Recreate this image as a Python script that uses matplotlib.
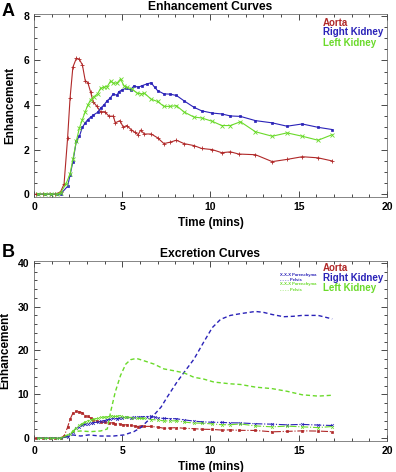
import matplotlib.pyplot as plt
from matplotlib.ticker import MultipleLocator

plt.rcParams['font.family'] = ['Liberation Sans', 'DejaVu Sans']
plt.rcParams['font.weight'] = 'bold'

RED = "#b02828"
BLUE = "#2a22b8"
GREEN = "#6ada2a"

# sample times (mins) and curves
aorta_t = [0.1, 0.5, 0.9, 1.2, 1.5, 1.7, 1.9, 2.04, 2.2, 2.4, 2.57, 2.74, 2.9, 3.05, 3.2,
           3.35, 3.55, 3.77, 4.0, 4.25, 4.5, 4.6, 4.87, 5.06, 5.25, 5.5, 5.7, 5.9, 6.04,
           6.26, 6.64, 7.0, 7.36, 7.7, 8.07, 8.5, 9.06, 9.5, 10.1, 10.64, 11.13, 11.6,
           12.55, 13.5, 14.34, 15.2, 16.1, 16.9]
aorta = [0.0, 0.0, 0.0, 0.0, 0.1, 0.45, 2.5, 4.3, 5.7, 6.1, 6.05, 5.8, 5.1, 5.0, 4.6,
         4.15, 3.95, 3.7, 3.7, 3.5, 3.5, 3.2, 3.3, 3.0, 3.08, 2.9, 2.78, 2.67, 2.87,
         2.7, 2.7, 2.53, 2.27, 2.33, 2.42, 2.27, 2.18, 2.05, 2.0, 1.86, 1.9, 1.8,
         1.77, 1.46, 1.56, 1.68, 1.63, 1.49]

right_t = [0.2, 0.6, 0.95, 1.3, 1.5, 1.9, 2.04, 2.2, 2.4, 2.57, 2.74, 2.9, 3.05, 3.2, 3.36,
           3.6, 3.77, 3.96, 4.15, 4.3, 4.5, 4.7, 4.8, 5.0, 5.2, 5.47, 5.66, 5.9, 6.13,
           6.4, 6.64, 6.83, 7.0, 7.36, 7.7, 8.07, 8.5, 9.06, 9.5, 10.1, 10.64, 11.13,
           11.7, 12.55, 13.5, 14.34, 15.2, 16.1, 16.9]
right_par = [0.0, 0.0, 0.0, 0.0, 0.0, 0.35, 0.85, 1.45, 2.4, 2.6, 3.0, 3.2, 3.35, 3.45, 3.55,
             3.67, 3.86, 4.0, 4.2, 4.3, 4.5, 4.43, 4.6, 4.68, 4.75, 4.68, 4.86, 4.8, 4.87,
             4.95, 5.0, 4.8, 4.65, 4.5, 4.49, 4.43, 4.19, 3.9, 3.74, 3.64, 3.6, 3.51,
             3.49, 3.3, 3.2, 3.05, 3.15, 3.0, 2.9]

left_t = [0.2, 0.6, 0.95, 1.3, 1.5, 1.8, 2.04, 2.2, 2.4, 2.57, 2.74, 2.9, 3.05, 3.2, 3.4,
          3.6, 3.77, 3.96, 4.15, 4.34, 4.5, 4.7, 4.9, 5.1, 5.28, 5.57, 5.85, 6.08, 6.26,
          6.64, 7.0, 7.36, 7.7, 8.07, 8.5, 9.06, 9.5, 10.1, 10.64, 11.13, 11.7, 12.55,
          13.5, 14.34, 15.2, 16.1, 16.9]
left_par = [0.0, 0.0, 0.0, 0.0, 0.05, 0.45, 0.9, 1.56, 2.4, 2.97, 3.35, 3.7, 4.0, 4.23, 4.38,
            4.5, 4.75, 4.8, 4.83, 5.08, 4.98, 4.98, 5.17, 4.86, 4.8, 4.71, 4.53, 4.5, 4.53,
            4.26, 4.16, 3.94, 3.94, 3.97, 3.69, 3.46, 3.42, 3.27, 3.08, 3.08, 3.25, 2.8,
            2.6, 2.75, 2.6, 2.42, 2.67]

right_pel_t = [0.2, 0.9, 1.5, 1.9, 2.2, 2.64, 3.1, 3.77, 4.5, 5.1, 5.66, 6.04, 6.4, 6.8, 7.2,
               7.55, 8.1, 8.5, 9.06, 9.6, 10.1, 10.57, 11.13, 11.7, 12.55, 13.0, 13.5,
               14.15, 14.7, 15.2, 16.1, 16.9]
right_pel = [0.0, 0.0, 0.0, 0.4, 0.75, 0.5, 0.75, 0.5, 0.5, 0.75, 1.5, 2.4, 3.8, 5.3, 7.1,
             9.4, 12.8, 15.0, 18.0, 21.8, 25.2, 27.1, 28.0, 28.4, 28.9, 28.7, 28.2,
             27.7, 27.8, 28.0, 28.0, 27.2]

left_pel_t = [0.2, 0.9, 1.5, 1.9, 2.2, 2.64, 3.2, 3.77, 4.15, 4.34, 4.6, 4.9, 5.2, 5.47, 5.8,
              6.2, 6.8, 7.36, 7.9, 8.5, 9.06, 9.6, 10.2, 11.13, 11.7, 12.55, 13.5, 14.34,
              15.2, 16.1, 16.9]
left_pel = [0.0, 0.0, 0.0, 0.75, 1.5, 1.65, 1.5, 1.65, 2.1, 6.0, 10.5, 14.3, 16.9, 17.9, 18.2,
            17.7, 16.9, 15.8, 15.4, 14.9, 13.9, 13.5, 12.8, 12.4, 12.25, 11.65, 11.3, 10.7,
            9.9, 9.6, 9.8]


def style_axes(ax, ymaj, ymin):
    ax.set_xlim(0, 20)
    ax.xaxis.set_major_locator(MultipleLocator(5))
    ax.xaxis.set_minor_locator(MultipleLocator(1))
    ax.yaxis.set_major_locator(MultipleLocator(ymaj))
    ax.yaxis.set_minor_locator(MultipleLocator(ymin))
    ax.tick_params(which="both", direction="in", top=True, right=True, labelsize=7.5, width=0.5)
    ax.tick_params(which="major", length=4)
    ax.tick_params(which="minor", length=2)
    for s in ax.spines.values():
        s.set_linewidth(0.5)
        s.set_color("#555555")
    ax.set_xlabel("Time (mins)", fontsize=8.5, fontweight="bold", labelpad=4)
    ax.set_ylabel("Enhancement", fontsize=8.5, fontweight="bold", labelpad=5)


def color_legend(ax, ys):
    for (label, col), y in zip([("Aorta", RED), ("Right Kidney", BLUE), ("Left Kidney", GREEN)], ys):
        ax.text(0.818, y, label, color=col, transform=ax.transAxes,
                fontsize=7, fontweight="bold", va="center")


fig = plt.figure(figsize=(3.96, 4.72), dpi=100)

# panel A
ax1 = fig.add_axes([0.086, 0.583, 0.891, 0.388])
ax1.plot(aorta_t, aorta, color=RED, lw=0.8, marker="+", ms=3, mew=0.6)
ax1.plot(right_t, right_par, color=BLUE, lw=0.8, marker="s", ms=2, mew=0.5)
ax1.plot(left_t, left_par, color=GREEN, lw=0.8, marker="x", ms=2.8, mew=0.6)
ax1.set_ylim(-0.12, 8.1)
style_axes(ax1, 2, 0.5)
ax1.set_title("Enhancement Curves", fontsize=8.7, fontweight="bold", pad=3)
color_legend(ax1, [0.95, 0.899, 0.841])
fig.text(0.005, 0.966, "A", fontsize=13, fontweight="bold")

# panel B
ax2 = fig.add_axes([0.086, 0.066, 0.891, 0.381])
ax2.plot(aorta_t, aorta, color=RED, lw=0.8, ls="-.", marker="s", ms=1.5, mew=0.5)
ax2.plot(right_t, right_par, color=BLUE, lw=0.8, ls="-.", marker="x", ms=2, mew=0.5)
ax2.plot(left_t, left_par, color=GREEN, lw=0.8, ls="-.", marker="x", ms=2, mew=0.5)
ax2.plot(right_pel_t, right_pel, color=BLUE, lw=1.0, ls=(0, (3, 2)))
ax2.plot(left_pel_t, left_pel, color=GREEN, lw=1.0, ls=(0, (3, 2)))
ax2.set_ylim(-0.6, 40.4)
style_axes(ax2, 10, 2)
ax2.set_title("Excretion Curves", fontsize=8.7, fontweight="bold", pad=3)
color_legend(ax2, [0.961, 0.906, 0.85])
for y, label, col in [(0.924, "X-X-X Parenchyma", BLUE), (0.897, "- - - - Pelvis", BLUE),
                      (0.871, "X-X-X Parenchyma", GREEN), (0.839, "- - - - Pelvis", GREEN)]:
    ax2.text(0.697, y, label, color=col, transform=ax2.transAxes, fontsize=3, va="center")
fig.text(0.005, 0.455, "B", fontsize=13, fontweight="bold")

fig.savefig("out.png", dpi=100)
